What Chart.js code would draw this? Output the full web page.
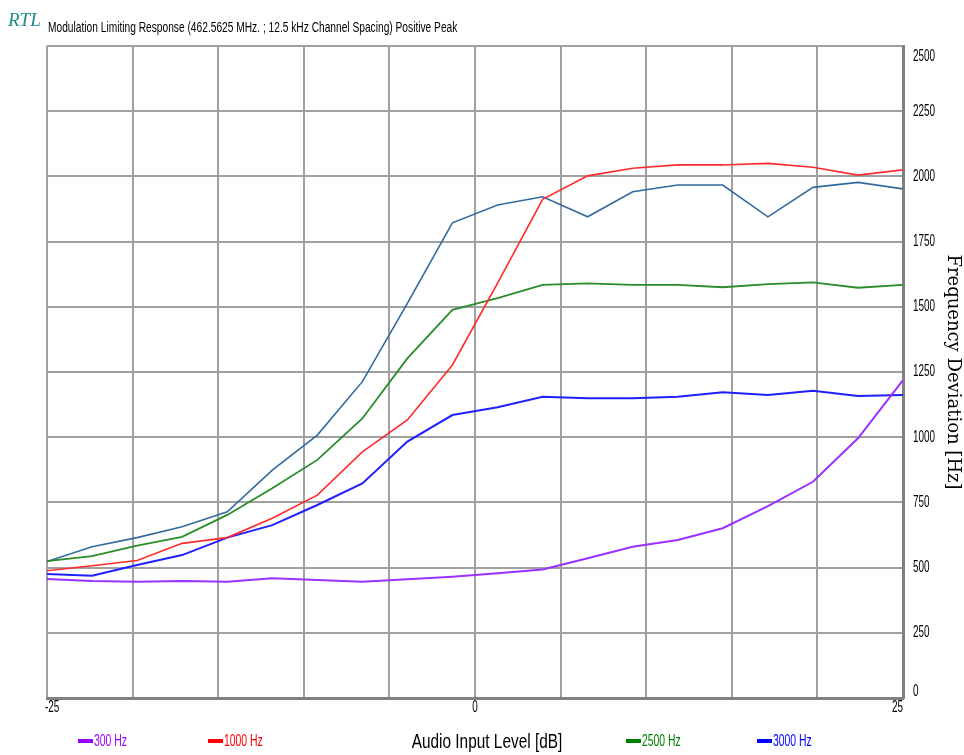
<!DOCTYPE html>
<html>
<head>
<meta charset="utf-8">
<title>Modulation Limiting Response</title>
<script src="https://cdn.jsdelivr.net/npm/chart.js@4/dist/chart.umd.min.js"></script>
<style>
  html, body { margin: 0; padding: 0; background: #ffffff; }
  #wrap { width: 964px; height: 755px; position: relative; }
</style>
</head>
<body>
<div id="wrap"><canvas id="c" width="964" height="755"></canvas></div>
<script>
// Audio input level steps (dB)
const inputLevelDb = [-25, -22.37, -19.74, -17.11, -14.47, -11.84, -9.21, -6.58, -3.95, -1.32,
                      1.32, 3.95, 6.58, 9.21, 11.84, 14.47, 17.11, 19.74, 22.37, 25];

// Measured positive-peak frequency deviation (Hz) per modulating tone
const dev300Hz  = [456, 449, 446, 449, 446, 459, 452, 446, 455, 465,
                   478, 493, 536, 580, 606, 651, 736, 829, 996, 1219];
const dev1000Hz = [488, 507, 527, 593, 615, 689, 778, 944, 1066, 1277,
                   1591, 1912, 2002, 2031, 2044, 2044, 2050, 2035, 2005, 2025];
const dev2500Hz = [525, 544, 584, 618, 702, 804, 913, 1072, 1302, 1488,
                   1533, 1584, 1590, 1584, 1584, 1575, 1587, 1594, 1573, 1584];
const dev3000Hz = [475, 469, 510, 548, 615, 663, 740, 823, 983, 1085,
                   1115, 1155, 1149, 1149, 1155, 1172, 1162, 1178, 1158, 1162];
const devExtra  = [523, 580, 615, 657, 714, 874, 1008, 1213, 1513, 1822,
                   1890, 1922, 1845, 1941, 1967, 1967, 1845, 1958, 1977, 1952];

const seriesLabels = ['300 Hz', '1000 Hz', '2500 Hz', '3000 Hz', ''];
const xTickLabels = [-25, 0, 25];
const yTickValues = [0, 250, 500, 750, 1000, 1250, 1500, 1750, 2000, 2250, 2500];

const chartTitle = 'Modulation Limiting Response (462.5625 MHz. ; 12.5 kHz Channel Spacing) Positive Peak';
const xAxisTitle = 'Audio Input Level [dB]';
const yAxisTitle = 'Frequency Deviation [Hz]';

const SANS = "'Liberation Sans', Arial, sans-serif";

function pts(arr) { return inputLevelDb.map((x, i) => ({ x: x, y: arr[i] })); }

const series = [
  { data: dev300Hz,  color: '#9b30ff', legend: '#9900ff', width: 2 },
  { data: dev1000Hz, color: '#ff2a2a', legend: '#ff0000', width: 1.6 },
  { data: dev2500Hz, color: '#2a8c2a', legend: '#008000', width: 1.8 },
  { data: dev3000Hz, color: '#2020ff', legend: '#0000ff', width: 2 },
  { data: devExtra,  color: '#336a9e', legend: '#336a9e', width: 1.6 }
];

// Condensed text: the sans face squeezed horizontally
function narrowText(ctx, text, x, y, align, size, color, sx) {
  ctx.save();
  ctx.font = size + 'px ' + SANS;
  ctx.fillStyle = color;
  ctx.textBaseline = 'middle';
  ctx.textAlign = 'left';
  const w = ctx.measureText(text).width * sx;
  const left = align === 'left' ? x : (align === 'right' ? x - w : x - w / 2);
  ctx.translate(left, y);
  ctx.scale(sx, 1);
  ctx.fillText(text, 0, 0);
  ctx.restore();
}

const decorPlugin = {
  id: 'decor',
  afterDraw(chart) {
    const ctx = chart.ctx;
    const area = chart.chartArea;
    const xs = chart.scales.x;
    const ys = chart.scales.y;

    // logo
    ctx.save();
    ctx.fillStyle = '#1f8a8a';
    ctx.font = "italic 19px 'Liberation Serif', 'DejaVu Serif', serif";
    ctx.textBaseline = 'alphabetic';
    ctx.textAlign = 'left';
    ctx.fillText('RTL', 8, 26);
    ctx.restore();

    // heading
    narrowText(ctx, chartTitle, 48, 28, 'left', 15, '#000000', 0.68);

    // x tick labels
    xTickLabels.forEach((v, i) => {
      const px = xs.getPixelForValue(v);
      const align = i === 0 ? 'left' : (i === xTickLabels.length - 1 ? 'right' : 'center');
      narrowText(ctx, String(v), i === 0 ? px - 2 : px, area.bottom + 10, align, 16, '#000000', 0.62);
    });

    // y tick labels, kept inside the plot's vertical extent
    yTickValues.forEach((v) => {
      let py = ys.getPixelForValue(v);
      py = Math.min(Math.max(py, area.top + 11), area.bottom - 6);
      narrowText(ctx, String(v), area.right + 10, py, 'left', 16, '#000000', 0.62);
    });

    // x axis title
    narrowText(ctx, xAxisTitle, 487, 742, 'center', 20, '#000000', 0.77);

    // legend entries
    const slots = [78, 208, 626, 757];
    const y = 741;
    let s = 0;
    chart.data.datasets.forEach((ds) => {
      if (!ds.label) return;
      const x = slots[s++];
      ctx.fillStyle = ds.legendColor;
      ctx.fillRect(x, y - 2, 15, 4);
      narrowText(ctx, ds.label, x + 16, y + 0.5, 'left', 16, ds.legendColor, 0.65);
    });
  }
};

new Chart(document.getElementById('c'), {
  type: 'line',
  data: {
    datasets: series.map((s, i) => ({
      label: seriesLabels[i],
      data: pts(s.data),
      borderColor: s.color,
      backgroundColor: s.color,
      legendColor: s.legend,
      borderWidth: s.width,
      pointRadius: 0,
      tension: 0,
      fill: false
    }))
  },
  options: {
    responsive: false,
    animation: false,
    layout: { padding: { left: 47, right: 0, top: 46, bottom: 0 } },
    plugins: {
      legend: { display: false },
      tooltip: { enabled: false },
      title: { display: false }
    },
    scales: {
      x: {
        type: 'linear',
        min: -25,
        max: 25,
        afterFit(scale) { scale.height = 57; },
        grid: { color: '#a0a0a0', lineWidth: 2, drawTicks: false },
        border: { color: '#808080', width: 3 },
        ticks: { stepSize: 5, display: false }
      },
      y: {
        position: 'right',
        min: 0,
        max: 2500,
        afterFit(scale) { scale.width = 61; },
        afterBuildTicks(scale) { scale.ticks = yTickValues.map(v => ({ value: v })); },
        grid: { color: '#a0a0a0', lineWidth: 2, drawTicks: false },
        border: { color: '#808080', width: 3 },
        ticks: { display: false },
        title: {
          display: true,
          text: yAxisTitle,
          color: '#000000',
          font: { family: "'DejaVu Serif', 'Liberation Serif', serif", size: 18 },
          padding: { top: 1, bottom: 0 }
        }
      }
    }
  },
  plugins: [decorPlugin]
});
</script>
</body>
</html>
